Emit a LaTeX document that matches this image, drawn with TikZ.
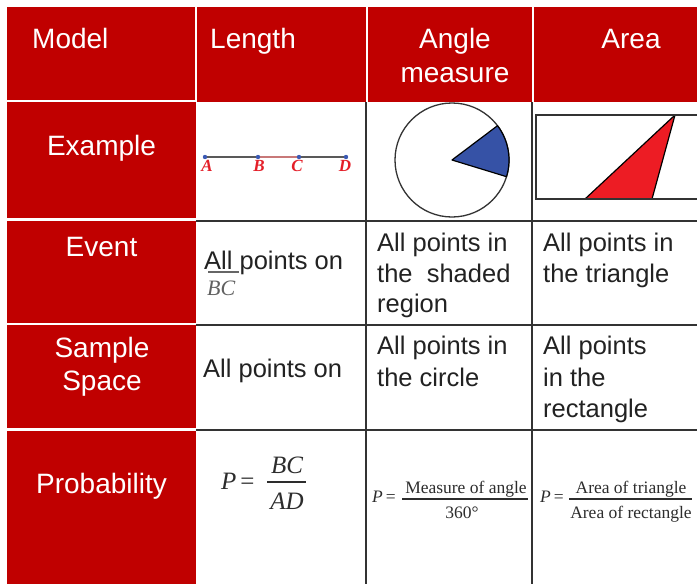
\documentclass[tikz,border=0pt]{standalone}
\usepackage{fontspec}
\setmainfont{Liberation Sans}
\newfontfamily\ser{Liberation Serif}
\definecolor{hdred}{RGB}{192,0,0}
\definecolor{gridc}{RGB}{51,51,51}
\definecolor{txtc}{RGB}{34,34,34}
\definecolor{frmc}{RGB}{45,45,45}
\definecolor{secblue}{RGB}{54,82,166}
\definecolor{trired}{RGB}{237,28,36}
\definecolor{lblred}{RGB}{228,30,40}
\definecolor{ptblue}{RGB}{60,90,180}
\definecolor{segpink}{RGB}{200,120,120}
\begin{document}
\begin{tikzpicture}[x=1pt,y=-1pt,
  redcell/.style={fill=hdred,draw=none},
  htxt/.style={text=white,font=\fontsize{28}{32}\selectfont,inner sep=0pt},
  btxt/.style={text=txtc,font=\fontsize{25.5}{31}\selectfont,inner sep=0pt,anchor=base west},
  gridline/.style={draw=gridc,line width=2pt},
  ptlbl/.style={text=lblred,font=\ser\bfseries\itshape\fontsize{17}{19}\selectfont,inner sep=0pt},
  bigfrm/.style={text=frmc,font=\ser\fontsize{25}{28}\selectfont,inner sep=0pt,anchor=base},
  smfrm/.style={text=frmc,font=\ser\fontsize{17.5}{20}\selectfont,inner sep=0pt,anchor=base},
  fracbar/.style={draw=frmc,line width=1.1pt}
]
\useasboundingbox (0,0) rectangle (697,584);
\fill[white] (0,0) rectangle (697,584);

% header cells
\fill[redcell] (7,7) rectangle (195,100);
\fill[redcell] (197,7) rectangle (366,102);
\fill[redcell] (368,7) rectangle (532,102);
\fill[redcell] (534,7) rectangle (697,102);
% left column cells
\fill[redcell] (7,102) rectangle (196,218);
\fill[redcell] (7,221) rectangle (196,323);
\fill[redcell] (7,325) rectangle (196,428);
\fill[redcell] (7,431) rectangle (196,584);

% grid lines
\draw[gridline] (366,102) -- (366,584);
\draw[gridline] (532,102) -- (532,584);
\draw[gridline] (196,220.5) -- (697,220.5);
\draw[gridline] (196,324.5) -- (697,324.5);
\draw[gridline] (196,429.5) -- (697,429.5);

% header texts
\node[htxt,anchor=base west] (hmodel) at (32,48) {Model};
\node[htxt,anchor=base west] (hlength) at (210,48) {Length};
\node[htxt,anchor=base] (hangle) at (455,48) {Angle};
\node[htxt,anchor=base] (hmeasure) at (455,82) {measure};
\node[htxt,anchor=base] (harea) at (631,48) {Area};

% row labels
\node[htxt,anchor=base] (lex) at (101.5,155) {Example};
\node[htxt,anchor=base] (lev) at (101.5,256) {Event};
\node[htxt,anchor=base] (lsa) at (102,357) {Sample};
\node[htxt,anchor=base] (lsp) at (102,390) {Space};
\node[htxt,anchor=base] (lpr) at (101.5,493) {Probability};

% Example: length
\coordinate (pA) at (205,157);
\coordinate (pB) at (258,157);
\coordinate (pC) at (299,157);
\coordinate (pD) at (346,157);
\draw[draw=gray!70!black,line width=1.6pt] (pA) -- (pB);
\draw[draw=segpink,line width=1.6pt] (pB) -- (pC);
\draw[draw=gray!70!black,line width=1.6pt] (pC) -- (pD);
\foreach \p in {pA,pB,pC,pD} \fill[ptblue] (\p) circle[radius=2.2pt];
\node[ptlbl] (lA) at (207,166) {A};
\node[ptlbl] (lB) at (259,166) {B};
\node[ptlbl] (lC) at (297,166) {C};
\node[ptlbl] (lD) at (345,166) {D};

% Example: angle
\coordinate (cc) at (452,160);
\draw[draw=gridc,line width=1.3pt] (cc) circle[radius=57pt];
\filldraw[fill=secblue,draw=black,line width=1.2pt,line join=round] (cc) -- ++(37:57pt) arc[start angle=37,end angle=-17,radius=57pt] -- cycle;

% Example: area
\coordinate (t1) at (585,199);
\coordinate (t2) at (675,115);
\coordinate (t3) at (652,199);
\filldraw[fill=trired,draw=black,line width=1.2pt,line join=round] (t1) -- (t2) -- (t3) -- cycle;
\draw[draw=gridc,line width=1.8pt] (536,115) rectangle (703,199);

% Event row
\node[btxt] (ev1) at (204,269) {All points on};
\draw[draw=gray!80!black,line width=1.2pt] (208,272) -- (239,272);
\node[anchor=base west,inner sep=0pt,text=gray!75!black,font=\ser\itshape\fontsize{22}{24}\selectfont] (evbc) at (207,295) {BC};
\node[btxt] (ev2a) at (377,251) {All points in};
\node[btxt] (ev2b) at (377,282) {the\ \ shaded};
\node[btxt] (ev2c) at (377,312) {region};
\node[btxt] (ev3a) at (543,251) {All points in};
\node[btxt] (ev3b) at (543,282) {the triangle};

% Sample space row
\node[btxt] (ss1) at (203,377) {All points on};
\node[btxt] (ss2a) at (377,354) {All points in};
\node[btxt] (ss2b) at (377,386) {the circle};
\node[btxt] (ss3a) at (543,354) {All points};
\node[btxt] (ss3b) at (543,386) {in the};
\node[btxt] (ss3c) at (543,417) {rectangle};

% Probability: length
\node[bigfrm,anchor=base west] (pl) at (221,489) {\itshape P\/\hspace{4pt}\upshape =};
\coordinate (blA) at (267,482);
\coordinate (blB) at (306,482);
\draw[fracbar,line width=1.3pt] (blA) -- (blB);
\node[bigfrm] (plnum) at (287,473) {\itshape BC};
\node[bigfrm] (plden) at (287,509) {\itshape AD};

% Probability: angle
\node[smfrm,anchor=base west] (pa) at (372,502) {\itshape P\/\hspace{3pt}\upshape =};
\coordinate (baA) at (402,499);
\coordinate (baB) at (528,499);
\draw[fracbar] (baA) -- (baB);
\node[smfrm] (panum) at (466,493) {Measure of angle};
\node[smfrm] (paden) at (462,518) {360°};

% Probability: area
\node[smfrm,anchor=base west] (pr) at (540,502) {\itshape P\/\hspace{3pt}\upshape =};
\coordinate (brA) at (569,499);
\coordinate (brB) at (692,499);
\draw[fracbar] (brA) -- (brB);
\node[smfrm] (prnum) at (631,493) {Area of triangle};
\node[smfrm] (prden) at (631,518) {Area of rectangle};
\end{tikzpicture}
\end{document}
